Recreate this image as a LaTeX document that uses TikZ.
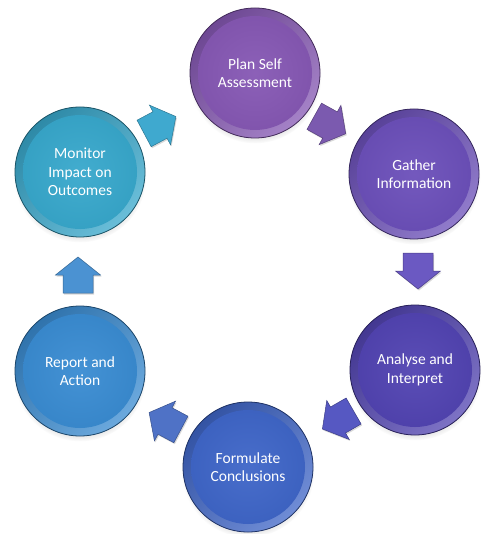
\documentclass[tikz,border=0pt]{standalone}
\usepackage{fontspec}
\setmainfont{Carlito}
\usetikzlibrary{shadows}
\definecolor{cPlan}{HTML}{8658B4}
\definecolor{cGather}{HTML}{6C50BA}
\definecolor{cAnalyse}{HTML}{5244B2}
\definecolor{cForm}{HTML}{3F66C8}
\definecolor{cReport}{HTML}{3A8CD2}
\definecolor{cMonitor}{HTML}{38A8CC}
\definecolor{aOne}{HTML}{3FA9CF}
\definecolor{aTwo}{HTML}{7B5AAF}
\definecolor{aThree}{HTML}{6B59C2}
\definecolor{aFour}{HTML}{5658C2}
\definecolor{aFive}{HTML}{4F72C6}
\definecolor{aSix}{HTML}{4B92D2}
\tikzset{
  ball/.style={circle, minimum size=130pt, inner sep=0pt, align=center,
    text=white, font=\fontsize{15.5}{18.5}\selectfont,
    draw=#1!50!black, line width=0.8pt, fill=#1,
    circular drop shadow={shadow xshift=0pt, shadow yshift=-4pt, opacity=0.3, shadow scale=1.02},
    path picture={
      \shade[shading=axis, top color=#1!82!black, bottom color=#1!75!white, shading angle=45]
        (path picture bounding box.center) circle (65pt);
      \shade[inner color=#1!95!white, outer color=#1!96!black]
        (path picture bounding box.center) circle (57pt);
    }},
  pics/blkarrow/.style={code={
    \draw[fill=#1, draw=#1!70!black, line width=0.5pt,
      drop shadow={shadow xshift=1pt, shadow yshift=-1.5pt, opacity=0.3}]
      (-18pt,-15pt) -- (0pt,-15pt) -- (0pt,-22.5pt) -- (18pt,0pt)
      -- (0pt,22.5pt) -- (0pt,15pt) -- (-18pt,15pt) -- cycle;
  }}
}
\begin{document}
\begin{tikzpicture}[x=1pt,y=-1pt]
\useasboundingbox[fill=white] (0,0) rectangle (480,534);
\node[ball=cPlan]    (plan)    at (255,73)  {Plan Self\\Assessment};
\node[ball=cGather]  (gather)  at (414,174) {Gather\\Information};
\node[ball=cAnalyse] (analyse) at (415,370) {Analyse and\\Interpret};
\node[ball=cForm]    (form)    at (248,467) {Formulate\\Conclusions};
\node[ball=cReport]  (report)  at (80,371)  {Report and\\Action};
\node[ball=cMonitor] (monitor) at (80,172)  {Monitor\\Impact on\\Outcomes};
\pic[rotate=28]  (a1) at (160,125) {blkarrow=aOne};
\pic[rotate=-29] (a2) at (330,125) {blkarrow=aTwo};
\pic[rotate=-90] (a3) at (418,271) {blkarrow=aThree};
\pic[rotate=210] (a4) at (338,420) {blkarrow=aFour};
\pic[rotate=152] (a5) at (165,421) {blkarrow=aFive};
\pic[rotate=90]  (a6) at (78,275)  {blkarrow=aSix};
\end{tikzpicture}
\end{document}
